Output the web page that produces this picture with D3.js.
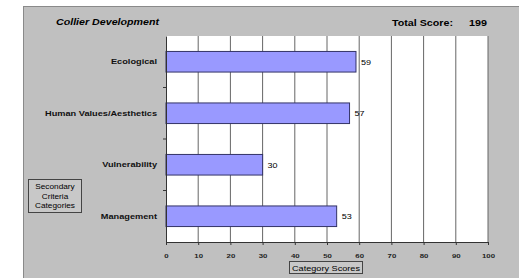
<!DOCTYPE html>
<html>
<head>
<meta charset="utf-8">
<script src="https://cdn.jsdelivr.net/npm/d3@7"></script>
<style>
body { margin: 0; background: #fff; }
svg { display: block; font-family: "Liberation Sans", Arial, sans-serif; }
</style>
</head>
<body>
<div id="chart"></div>
<script>
var categories = ['Ecological', 'Human Values/Aesthetics', 'Vulnerability', 'Management'];
var scores = [59, 57, 30, 53];
var xTicks = [0, 10, 20, 30, 40, 50, 60, 70, 80, 90, 100];
var totalScore = 199;

var W = 519, H = 278;
var svg = d3.select('#chart').append('svg').attr('width', W).attr('height', H);

// the original picture is a bit stretched sideways, so widen the text
function widen(sel, k) {
    sel.each(function() {
        var len = this.getComputedTextLength();
        d3.select(this).attr('textLength', len * k).attr('lengthAdjust', 'spacingAndGlyphs');
    });
}

// grey chart panel
svg.append('rect').attr('x', 23.5).attr('y', 6.5).attr('width', W).attr('height', H)
    .attr('fill', '#c0c0c0').attr('stroke', '#8a8a8a').attr('stroke-width', 1);

var plot = {left: 166, right: 488, top: 36, bottom: 242};
var x = d3.scaleLinear().domain([0, 100]).range([plot.left, plot.right]);
var y = d3.scaleBand().domain(categories).range([plot.top, plot.bottom]).paddingInner(0.6).paddingOuter(0.3);
var yb = d3.scaleBand().domain(categories).range([plot.top, plot.bottom]);

svg.append('rect').attr('x', plot.left).attr('y', plot.top)
    .attr('width', plot.right - plot.left).attr('height', plot.bottom - plot.top).attr('fill', '#fff');

// vertical gridlines
svg.append('g').selectAll('line').data(xTicks.slice(1)).enter().append('line')
    .attr('x1', function(d){ return x(d); }).attr('x2', function(d){ return x(d); })
    .attr('y1', plot.top).attr('y2', plot.bottom)
    .attr('stroke', '#666').attr('stroke-width', 1);

// bars
svg.append('g').selectAll('rect').data(scores).enter().append('rect')
    .attr('x', x(0))
    .attr('y', function(d, i){ return y(categories[i]); })
    .attr('width', function(d){ return x(d) - x(0); })
    .attr('height', y.bandwidth())
    .attr('fill', '#9999ff').attr('stroke', '#333366').attr('stroke-width', 1);

// value labels
var vals = svg.append('g').selectAll('text').data(scores).enter().append('text')
    .attr('x', function(d){ return x(d) + 5; })
    .attr('y', function(d, i){ return y(categories[i]) + y.bandwidth() / 2 + 3; })
    .attr('font-size', 7.5).attr('fill', '#000')
    .text(function(d){ return d; });
widen(vals, 1.2);

// x axis
var xAxis = svg.append('g').attr('transform', 'translate(0,' + plot.bottom + ')')
    .call(d3.axisBottom(x).tickValues(xTicks).tickSize(3).tickPadding(9));
xAxis.select('.domain').attr('stroke', '#333');
xAxis.selectAll('.tick line').attr('stroke', '#333');
xAxis.selectAll('text').attr('font-size', 6).attr('font-weight', 'bold').attr('fill', '#222')
    .attr('font-family', '"Liberation Sans", Arial, sans-serif');
widen(xAxis.selectAll('text'), 1.3);

// y axis
var yAxis = svg.append('g').attr('transform', 'translate(' + plot.left + ',0)')
    .call(d3.axisLeft(yb).tickSize(0).tickPadding(9));
yAxis.select('.domain').attr('stroke', '#333');
yAxis.selectAll('text').attr('font-size', 8).attr('font-weight', 'bold').attr('fill', '#111')
    .attr('font-family', '"Liberation Sans", Arial, sans-serif');
widen(yAxis.selectAll('text'), 1.15);
// category separator ticks
svg.append('g').selectAll('line').data(categories.slice(1)).enter().append('line')
    .attr('x1', plot.left - 3).attr('x2', plot.left)
    .attr('y1', function(d){ return yb(d); }).attr('y2', function(d){ return yb(d); })
    .attr('stroke', '#333');

// titles
var t1 = svg.append('text').attr('x', 56).attr('y', 24.5).attr('font-size', 8.5)
    .attr('font-weight', 'bold').attr('font-style', 'italic').text('Collier Development');
t1.attr('textLength', 103).attr('lengthAdjust', 'spacingAndGlyphs');
svg.append('text').attr('x', 392).attr('y', 26).attr('font-size', 8.5)
    .attr('font-weight', 'bold').text('Total Score:')
    .attr('textLength', 61).attr('lengthAdjust', 'spacingAndGlyphs');
svg.append('text').attr('x', 469).attr('y', 26).attr('font-size', 8.5)
    .attr('font-weight', 'bold').text(totalScore)
    .attr('textLength', 18).attr('lengthAdjust', 'spacingAndGlyphs');

// x-axis title box
svg.append('rect').attr('x', 289.5).attr('y', 261.5).attr('width', 73).attr('height', 12)
    .attr('fill', '#c8c8c8').attr('stroke', '#444');
svg.append('text').attr('x', 326).attr('y', 271).attr('text-anchor', 'middle')
    .attr('font-size', 8).text('Category Scores')
    .attr('textLength', 68).attr('lengthAdjust', 'spacingAndGlyphs');

// y-axis title box
svg.append('rect').attr('x', 28.5).attr('y', 179.5).attr('width', 53).attr('height', 33)
    .attr('fill', '#c8c8c8').attr('stroke', '#444');
var boxLines = svg.append('g').selectAll('text').data(['Secondary', 'Criteria', 'Categories']).enter().append('text')
    .attr('x', 55).attr('y', function(d, i){ return 189 + i * 9.5; })
    .attr('text-anchor', 'middle').attr('font-size', 7.5).text(function(d){ return d; });
widen(boxLines, 1.1);
</script>
</body>
</html>
